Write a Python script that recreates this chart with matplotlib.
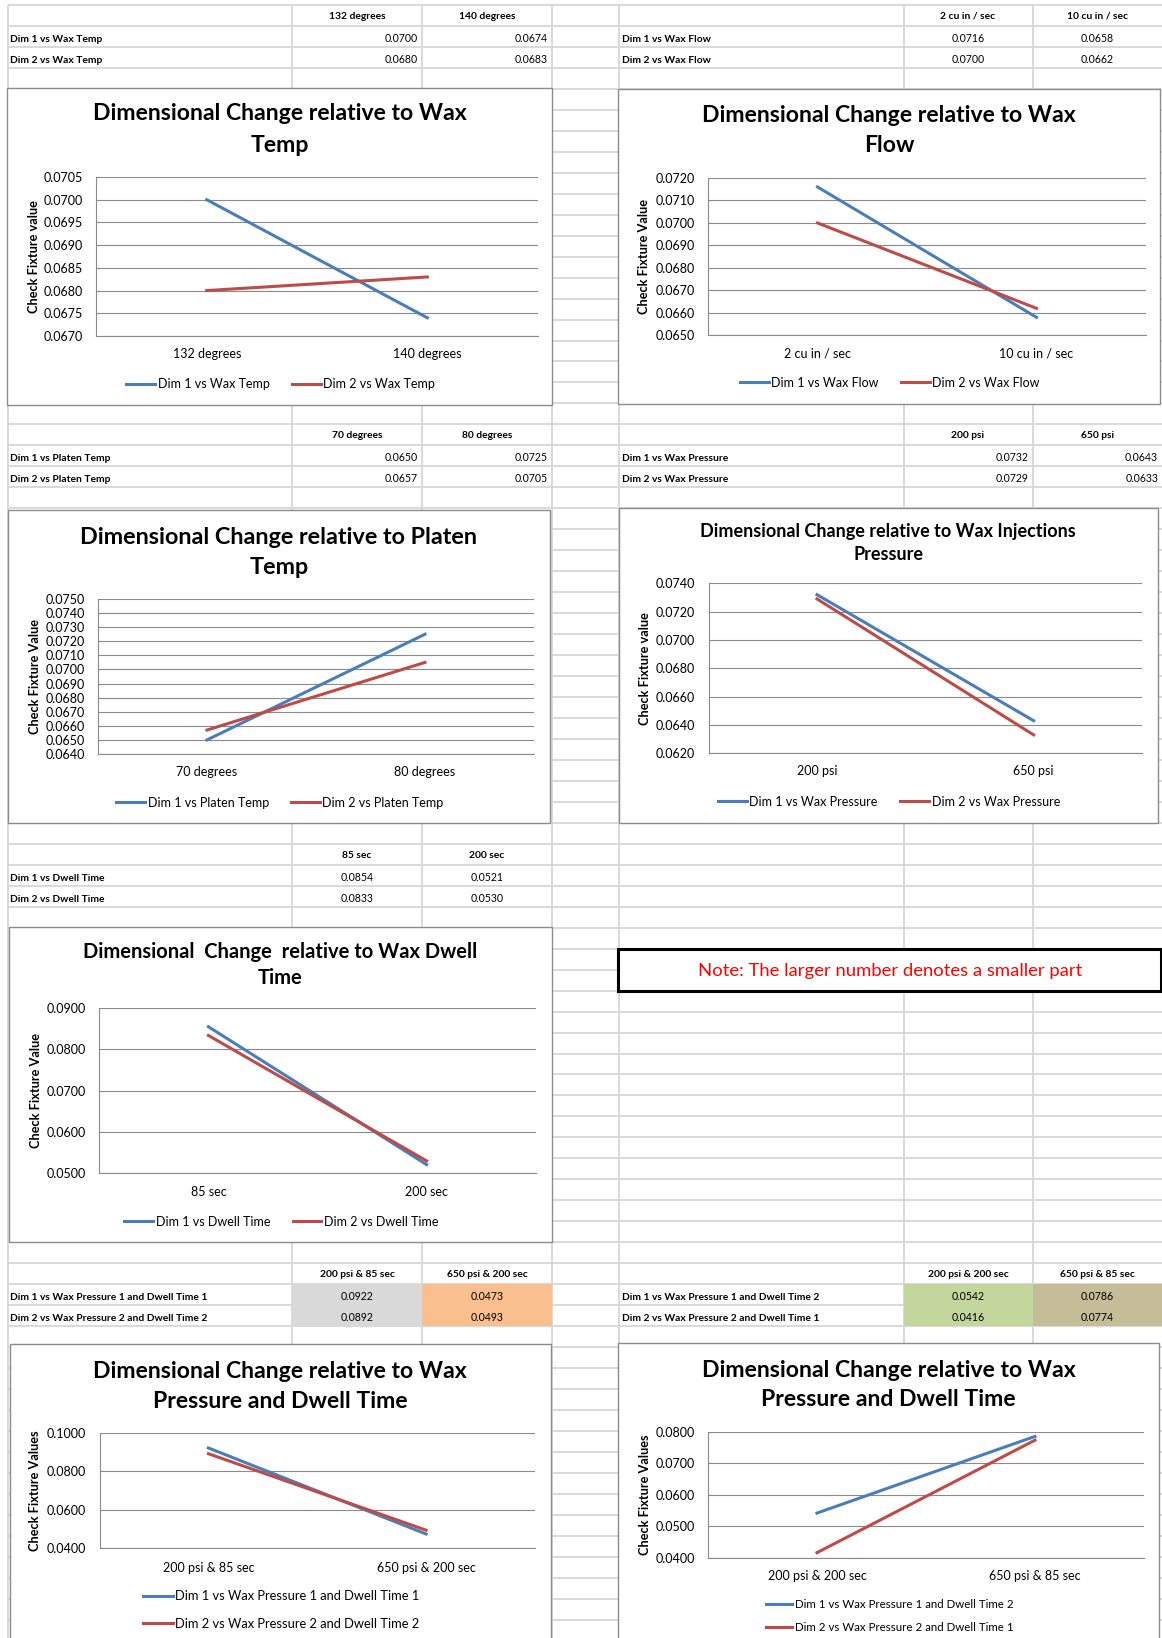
import matplotlib
matplotlib.use("Agg")
import numpy as np
import matplotlib.pyplot as plt
from matplotlib.patches import Rectangle
from matplotlib.ticker import FormatStrFormatter

plt.rcParams['font.family'] = ['Lato', 'DejaVu Sans']

# ===== sheet data =====
temp_cats = ['132 degrees', '140 degrees']
temp_names = ['Dim 1 vs Wax Temp', 'Dim 2 vs Wax Temp']
temp_dim1 = [0.0700, 0.0674]
temp_dim2 = [0.0680, 0.0683]

flow_cats = ['2 cu in / sec', '10 cu in / sec']
flow_names = ['Dim 1 vs Wax Flow', 'Dim 2 vs Wax Flow']
flow_dim1 = [0.0716, 0.0658]
flow_dim2 = [0.0700, 0.0662]

platen_cats = ['70 degrees', '80 degrees']
platen_names = ['Dim 1 vs Platen Temp', 'Dim 2 vs Platen Temp']
platen_dim1 = [0.0650, 0.0725]
platen_dim2 = [0.0657, 0.0705]

press_cats = ['200 psi', '650 psi']
press_names = ['Dim 1 vs Wax Pressure', 'Dim 2 vs Wax Pressure']
press_dim1 = [0.0732, 0.0643]
press_dim2 = [0.0729, 0.0633]

dwell_cats = ['85 sec', '200 sec']
dwell_names = ['Dim 1 vs Dwell Time', 'Dim 2 vs Dwell Time']
dwell_dim1 = [0.0854, 0.0521]
dwell_dim2 = [0.0833, 0.0530]

combo_a_cats = ['200 psi & 85 sec', '650 psi & 200 sec']
combo_a_names = ['Dim 1 vs Wax Pressure 1 and Dwell Time 1',
                 'Dim 2 vs Wax Pressure 2 and Dwell Time 2']
combo_a_dim1 = [0.0922, 0.0473]
combo_a_dim2 = [0.0892, 0.0493]

combo_b_cats = ['200 psi & 200 sec', '650 psi & 85 sec']
combo_b_names = ['Dim 1 vs Wax Pressure 1 and Dwell Time 2',
                 'Dim 2 vs Wax Pressure 2 and Dwell Time 1']
combo_b_dim1 = [0.0542, 0.0786]
combo_b_dim2 = [0.0416, 0.0774]

note_text = 'Note: The larger number denotes a smaller part'

# ===== layout (pixels) =====
W, H = 1162, 1638
ROW0, ROW_H = 5.0, 20.97
COL_LINES = [7.5, 292, 422, 552, 619, 903.5, 1032.5]
LEFT_BLOCK = (7.5, 292, 422, 552)
RIGHT_BLOCK = (619, 903.5, 1032.5, 1162)

BLUE = '#4a7ebb'
RED = '#be4b48'
SHEET_GRID = '#d9d9d9'
CHART_GRID = '#8a8a8a'

fig = plt.figure(figsize=(W / 100, H / 100), dpi=100)
bg = fig.add_axes([0, 0, 1, 1])
bg.set_xlim(0, W)
bg.set_ylim(H, 0)
bg.axis('off')

# spreadsheet grid
n_rows = int((H - ROW0) / ROW_H) + 1
bg.hlines([ROW0 + ROW_H * i for i in range(n_rows)], COL_LINES[0], W,
          color=SHEET_GRID, lw=1.4, zorder=1)
bg.vlines(COL_LINES, ROW0, H, color=SHEET_GRID, lw=1.4, zorder=1)


def row_mid(r):
    return ROW0 + ROW_H * (r + 0.5)


def put_table(block, r, cats, names, dim1, dim2, align='right', fills=None):
    x_lab, xa, xb, xc = block
    spans = [(xa, xb), (xb, xc)]
    for j, (lo, hi) in enumerate(spans):
        bg.text((lo + hi) / 2, row_mid(r) + 1, cats[j], ha='center', va='center',
                fontsize=7.4, fontweight='bold', zorder=2)
        if fills:
            bg.add_patch(Rectangle((lo, ROW0 + ROW_H * (r + 1)), hi - lo, 2 * ROW_H,
                                   facecolor=fills[j], edgecolor='none', zorder=1.5))
    for i, (name, vals) in enumerate(zip(names, [dim1, dim2])):
        y = row_mid(r + 1 + i) + 2
        bg.text(x_lab + 3, y + 1, name, ha='left', va='center',
                fontsize=7.4, fontweight='bold', zorder=2)
        for j, (lo, hi) in enumerate(spans):
            s = f'{vals[j]:.4f}'
            if align == 'right':
                bg.text(hi - 4, y, s, ha='right', va='center', fontsize=7.6, zorder=2)
            else:
                bg.text((lo + hi) / 2, y, s, ha='center', va='center', fontsize=7.6, zorder=2)


def put_chart(box, plot, title_lines, title_ys, title_size, ylabel, ylabel_x,
              cats, names, dim1, dim2, ylim, ystep, tick_y, legend_y, ncol,
              legend_size=9, legend_gap=0.75):
    x0, y0, x1, y1 = box
    bg.add_patch(Rectangle((x0, y0), x1 - x0, y1 - y0, facecolor='white',
                           edgecolor='#8c8c8c', lw=1.0, zorder=3))
    cx = (x0 + x1) / 2
    for line, ty in zip(title_lines, title_ys):
        bg.text(cx, ty, line, ha='center', va='center', fontsize=title_size,
                fontweight='bold', zorder=4)
    px0, py0, px1, py1 = plot
    bg.text(ylabel_x, (py0 + py1) / 2, ylabel, rotation=90, ha='center',
            va='center', fontsize=9.2, fontweight='bold', zorder=4)

    ax = fig.add_axes([px0 / W, 1 - py1 / H, (px1 - px0) / W, (py1 - py0) / H])
    ax.patch.set_alpha(0)
    xs = np.arange(len(cats))
    ax.plot(xs, dim1, color=BLUE, lw=2.2, label=names[0])
    ax.plot(xs, dim2, color=RED, lw=2.2, label=names[1])
    ax.set_xlim(-0.5, len(cats) - 0.5)
    ax.set_ylim(*ylim)
    n = int(round((ylim[1] - ylim[0]) / ystep))
    ax.set_yticks(np.linspace(ylim[0], ylim[1], n + 1))
    ax.yaxis.set_major_formatter(FormatStrFormatter('%.4f'))
    ax.set_xticks(xs, cats)
    ax.grid(axis='y', color=CHART_GRID, lw=0.8)
    ax.set_axisbelow(True)
    for side in ['top', 'right']:
        ax.spines[side].set_visible(False)
    for side in ['left', 'bottom']:
        ax.spines[side].set_color(CHART_GRID)
        ax.spines[side].set_linewidth(0.8)
    ax.tick_params(axis='y', length=0, labelsize=9, pad=9.7)
    ax.tick_params(axis='x', length=0, labelsize=9,
                   pad=max(0.0, (tick_y - py1 - 7) * 0.72))
    ax.legend(loc='center', bbox_to_anchor=(cx + 1, legend_y),
              bbox_transform=bg.transData, ncol=ncol, frameon=False,
              fontsize=legend_size, handlelength=2.3, handletextpad=0.2,
              columnspacing=1.8, labelspacing=legend_gap, borderpad=0,
              borderaxespad=0)
    return ax


# tables
put_table(LEFT_BLOCK, 0, temp_cats, temp_names, temp_dim1, temp_dim2, 'right')
put_table(RIGHT_BLOCK, 0, flow_cats, flow_names, flow_dim1, flow_dim2, 'center')
put_table(LEFT_BLOCK, 20, platen_cats, platen_names, platen_dim1, platen_dim2, 'right')
put_table(RIGHT_BLOCK, 20, press_cats, press_names, press_dim1, press_dim2, 'right')
put_table(LEFT_BLOCK, 40, dwell_cats, dwell_names, dwell_dim1, dwell_dim2, 'center')
put_table(LEFT_BLOCK, 60, combo_a_cats, combo_a_names, combo_a_dim1, combo_a_dim2,
          'center', fills=['#d9d9d9', '#fabf8f'])
put_table(RIGHT_BLOCK, 60, combo_b_cats, combo_b_names, combo_b_dim1, combo_b_dim2,
          'center', fills=['#c3d69b', '#c4bd97'])

# charts
put_chart((7.3, 87.5, 552, 405), (96.4, 177, 537.7, 336),
          ['Dimensional Change relative to Wax', 'Temp'], [114, 146], 16.6,
          'Check Fixture value', 34.5, temp_cats, temp_names, temp_dim1, temp_dim2,
          (0.0670, 0.0705), 0.0005, 355, 384.3, 2)
put_chart((618, 88.5, 1160, 403.5), (708, 178, 1146, 335.3),
          ['Dimensional Change relative to Wax', 'Flow'], [115, 145], 16.6,
          'Check Fixture Value', 644, flow_cats, flow_names, flow_dim1, flow_dim2,
          (0.0650, 0.0720), 0.001, 354, 382.7, 2)
put_chart((8, 510, 550, 822.7), (98, 599, 534, 754),
          ['Dimensional Change relative to Platen', 'Temp'], [537.7, 567.7], 16.8,
          'Check Fixture Value', 34.6, platen_cats, platen_names, platen_dim1, platen_dim2,
          (0.0640, 0.0750), 0.001, 772.7, 802.7, 2)
put_chart((618.6, 508.3, 1157.5, 822.7), (708.6, 583.3, 1142, 753.3),
          ['Dimensional Change relative to Wax Injections', 'Pressure'], [531.7, 555], 13,
          'Check Fixture value', 645, press_cats, press_names, press_dim1, press_dim2,
          (0.0620, 0.0740), 0.002, 771.7, 801.7, 2)
put_chart((9, 926.7, 551.5, 1241.7), (99.3, 1007.7, 535.7, 1173.3),
          ['Dimensional  Change  relative to Wax Dwell', 'Time'], [951.7, 978.3], 14.5,
          'Check Fixture Value', 35.7, dwell_cats, dwell_names, dwell_dim1, dwell_dim2,
          (0.050, 0.090), 0.01, 1192.7, 1221.7, 2)
put_chart((9.6, 1344.3, 551, 1660), (99.5, 1433, 535, 1548),
          ['Dimensional Change relative to Wax', 'Pressure and Dwell Time'], [1371.7, 1401.7], 16.6,
          'Check Fixture Values', 35.2, combo_a_cats, combo_a_names, combo_a_dim1, combo_a_dim2,
          (0.04, 0.10), 0.02, 1569, 1610, 1, legend_size=9.3, legend_gap=1.2)
put_chart((618, 1343, 1159, 1660), (708, 1432, 1144, 1557.7),
          ['Dimensional Change relative to Wax', 'Pressure and Dwell Time'], [1370.7, 1400], 16.6,
          'Check Fixture Values', 645, combo_b_cats, combo_b_names, combo_b_dim1, combo_b_dim2,
          (0.04, 0.08), 0.01, 1576.7, 1616, 1, legend_size=8.3, legend_gap=1.0)

# note cell
bg.add_patch(Rectangle((618, 949), 543, 42, facecolor='white', edgecolor='black',
                       lw=2.2, zorder=3))
bg.text(890.6, 971, note_text, ha='center', va='center', color='#ff0000',
        fontsize=13.3, zorder=4)

fig.savefig('out.png', dpi=100)
